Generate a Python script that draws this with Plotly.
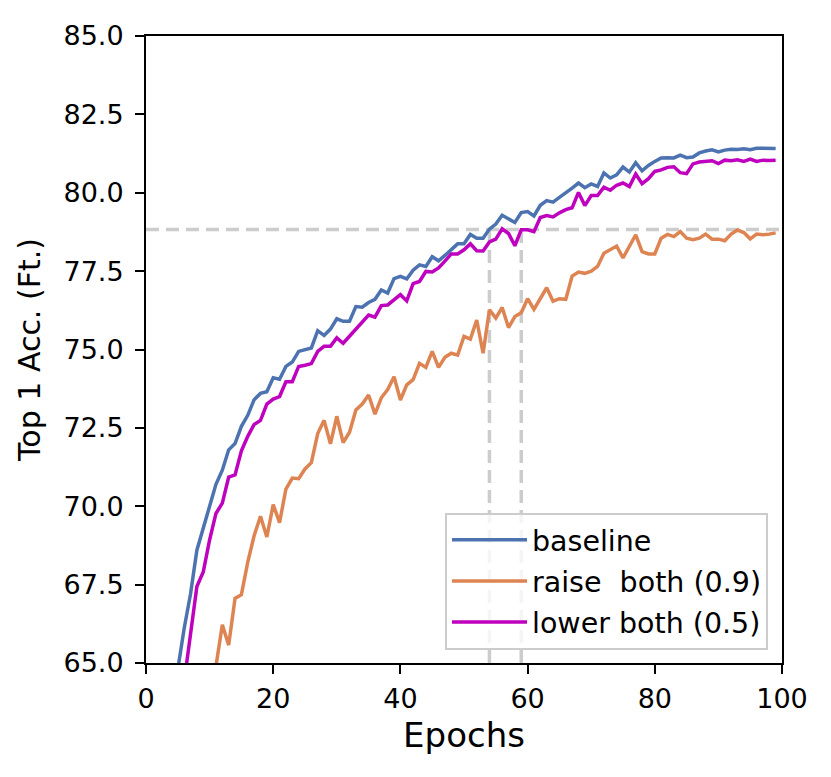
import plotly.graph_objects as go

epochs = list(range(1, 100))

baseline = [40.0, 50.0, 56.0, 60.5, 64.8, 66.1, 67.2, 68.6, 69.3, 70.0,
            70.7, 71.15, 71.8, 72.0, 72.55, 72.9, 73.4, 73.6, 73.65, 74.1,
            74.05, 74.46, 74.6, 74.94, 75.0, 75.05, 75.6, 75.45, 75.65, 75.98,
            75.9, 75.9, 76.37, 76.35, 76.5, 76.6, 76.9, 76.8, 77.26, 77.33,
            77.25, 77.53, 77.7, 77.65, 77.96, 77.83, 78.0, 78.2, 78.37, 78.37,
            78.67, 78.55, 78.55, 78.84, 79.0, 79.28, 79.18, 79.05, 79.37, 79.4,
            79.26, 79.6, 79.75, 79.7, 79.85, 79.99, 80.15, 80.31, 80.16, 80.28,
            80.2, 80.63, 80.47, 80.57, 80.82, 80.66, 80.96, 80.7, 80.87, 81.0,
            81.11, 81.12, 81.11, 81.2, 81.12, 81.14, 81.27, 81.33, 81.37, 81.3,
            81.36, 81.39, 81.38, 81.4, 81.37, 81.42, 81.41, 81.42, 81.41]

raise_both = [30.0, 40.0, 47.0, 52.0, 55.5, 58.0, 60.0, 61.5, 62.5, 63.7,
              64.9, 66.22, 65.57, 67.06, 67.18, 68.22, 69.06, 69.68, 69.02, 70.05,
              69.48, 70.55, 70.9, 70.88, 71.19, 71.39, 72.32, 72.74, 71.99, 72.87,
              72.03, 72.36, 73.07, 73.26, 73.55, 72.94, 73.46, 73.72, 74.13, 73.39,
              73.87, 74.04, 74.56, 74.43, 74.94, 74.43, 74.75, 74.88, 74.82, 75.42,
              75.33, 75.94, 74.88, 76.27, 76.0, 76.34, 75.7, 76.05, 76.17, 76.62,
              76.28, 76.62, 76.97, 76.54, 76.62, 76.6, 77.34, 77.47, 77.43, 77.5,
              77.65, 78.07, 78.17, 78.3, 77.92, 78.27, 78.66, 78.12, 78.05, 78.05,
              78.55, 78.67, 78.6, 78.76, 78.55, 78.5, 78.55, 78.68, 78.52, 78.52,
              78.47, 78.68, 78.81, 78.73, 78.53, 78.68, 78.66, 78.68, 78.72]

lower_both = [38.0, 48.0, 54.0, 58.5, 62.0, 64.4, 66.0, 67.44, 67.9, 68.93,
              69.77, 70.1, 70.93, 71.0, 71.77, 72.23, 72.61, 72.74, 73.26, 73.42,
              73.5, 73.97, 73.97, 74.46, 74.5, 74.55, 74.94, 75.1, 75.1, 75.37,
              75.2, 75.42, 75.65, 75.89, 76.1, 76.03, 76.4, 76.42, 76.6, 76.75,
              76.55, 77.1, 77.17, 77.49, 77.47, 77.6, 77.82, 78.05, 78.05, 78.18,
              78.37, 78.15, 78.14, 78.43, 78.52, 78.85, 78.7, 78.31, 78.82, 78.82,
              78.76, 79.21, 79.27, 79.23, 79.36, 79.46, 79.52, 80.01, 79.59, 79.91,
              79.91, 80.18, 80.08, 80.24, 80.31, 80.2, 80.6, 80.29, 80.45, 80.68,
              80.73, 80.81, 80.83, 80.64, 80.61, 80.92, 80.98, 81.0, 81.02, 80.93,
              81.04, 81.02, 81.05, 81.0, 81.07, 81.0, 81.04, 81.03, 81.04]

ref_level = 78.83          # horizontal reference accuracy
ref_epochs = [54, 59]      # epochs where the reference level is reached
x_range = [0, 100]
y_range = [65, 85]
x_ticks = [0, 20, 40, 60, 80, 100]
y_ticks = [65.0, 67.5, 70.0, 72.5, 75.0, 77.5, 80.0, 82.5, 85.0]

names = ["baseline", "raise  both (0.9)", "lower both (0.5)"]
colors = ["#4C72B0", "#DD8452", "#BF00BF"]
series = [baseline, raise_both, lower_both]

fig = go.Figure()

dash_style = dict(color="#CCCCCC", width=3.5, dash="13px,7px")
fig.add_trace(go.Scatter(x=x_range, y=[ref_level, ref_level], mode="lines",
                         line=dash_style, showlegend=False, hoverinfo="skip"))
for e in ref_epochs:
    fig.add_trace(go.Scatter(x=[e, e], y=[y_range[0], ref_level], mode="lines",
                             line=dash_style, showlegend=False, hoverinfo="skip"))

for i, (name, col, vals) in enumerate(zip(names, colors, series)):
    fig.add_trace(go.Scatter(x=epochs, y=vals, mode="lines", name=name,
                             legendgroup=f"g{i}",
                             line=dict(color=col, width=3.5)))

axis_common = dict(showline=True, linecolor="black", linewidth=2, mirror=True,
                   ticks="outside", ticklen=9, tickwidth=2, tickcolor="black",
                   showgrid=False, zeroline=False,
                   tickfont=dict(family="DejaVu Sans", size=27, color="black"))

fig.update_layout(
    width=815, height=761,
    margin=dict(l=138, r=41, t=23, b=106),
    paper_bgcolor="white", plot_bgcolor="white",
    font=dict(family="DejaVu Sans", color="black"),
    xaxis=dict(range=x_range, tickvals=x_ticks, **axis_common,
               ticklabelstandoff=2,
               title=dict(text="Epochs", font=dict(size=34), standoff=10)),
    yaxis=dict(range=y_range, tickvals=y_ticks, tickformat=".1f", **axis_common,
               ticklabelstandoff=6,
               title=dict(text="Top 1 Acc. (Ft.)", font=dict(size=30), standoff=14)),
    legend=dict(x=0.978, y=0.021, xanchor="right", yanchor="bottom",
                bgcolor="rgba(255,255,255,0.8)", bordercolor="#CCCCCC", borderwidth=2,
                font=dict(family="DejaVu Sans", size=28.5, color="black"),
                itemwidth=75, tracegroupgap=1),
)

fig.write_html("out.html")
